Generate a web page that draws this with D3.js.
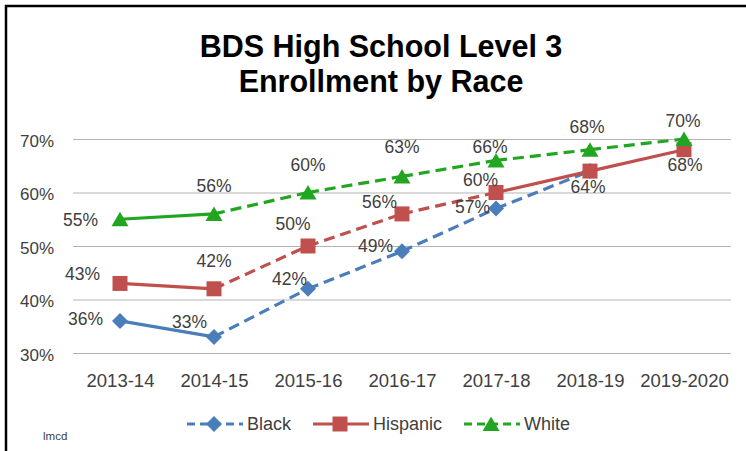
<!DOCTYPE html>
<html>
<head>
<meta charset="utf-8">
<script src="https://cdn.jsdelivr.net/npm/d3@7"></script>
<style>
  body { margin: 0; background: #fff; }
  svg text { font-family: "Liberation Sans", Arial, sans-serif; }
</style>
</head>
<body>
<svg id="chart" width="746" height="451"></svg>
<script>
// chart data
const years = ["2013-14", "2014-15", "2015-16", "2016-17", "2017-18", "2018-19", "2019-2020"];
const blackValues = [0.36, 0.33, 0.42, 0.49, 0.57, 0.64];
const hispanicValues = [0.43, 0.42, 0.50, 0.56, 0.60, 0.64, 0.68];
const whiteValues = [0.55, 0.56, 0.60, 0.63, 0.66, 0.68, 0.70];
// which segment between two years is drawn dashed
const blackDashed = [false, true, true, true, true];
const hispanicDashed = [false, true, true, true, false, false];
const whiteDashed = [false, true, true, true, true, true];
const yTicks = [0.3, 0.4, 0.5, 0.6, 0.7];
const titleLines = ["BDS High School Level 3", "Enrollment by Race"];

// label nudges [dx, dy, anchor] relative to each point, null = hidden
const blackLabelPos = [[-17, 4, "end"], [-7, -9, "end"], [-1, -4, "end"], [-9, 1, "end"], [-6, 4, "end"], null];
const hispanicLabelPos = [[-20, -3, "end"], [0, -22, "middle"], [-15, -16, "middle"], [-5, -6, "end"], [2, -7, "end"], [-2, 22, "middle"], [1, 21, "middle"]];
const whiteLabelPos = [[-22, 7, "end"], [0, -22, "middle"], [0, -22, "middle"], [0, -23, "middle"], [-6, -7, "middle"], [-3, -17, "middle"], [-1, -12, "middle"]];

const series = [
  { name: "Black", values: blackValues, dashed: blackDashed, labels: blackLabelPos, color: "#4a7ebb", marker: "diamond", legendDashed: true },
  { name: "Hispanic", values: hispanicValues, dashed: hispanicDashed, labels: hispanicLabelPos, color: "#c0504d", marker: "square", legendDashed: false },
  { name: "White", values: whiteValues, dashed: whiteDashed, labels: whiteLabelPos, color: "#22a622", marker: "triangle", legendDashed: true },
];

const markerPaths = {
  diamond: "M0,-8L8,0L0,8L-8,0Z",
  square: "M-7.5,-7.5H7.5V7.5H-7.5Z",
  triangle: "M0,-7.5L8.5,7L-8.5,7Z",
};
const dash = "11,6";
const textColor = "#404040";

const svg = d3.select("#chart");

// frame (only top and left edges are visible in the picture)
svg.append("path")
  .attr("d", "M6,451V6H746")
  .attr("fill", "none")
  .attr("stroke", "#000")
  .attr("stroke-width", 2.5);

// title
svg.append("g").selectAll("text")
  .data(titleLines)
  .enter()
  .append("text")
  .attr("x", 381)
  .attr("y", (d, i) => 57 + i * 35)
  .attr("text-anchor", "middle")
  .style("font-weight", "bold")
  .style("font-size", "30.5px")
  .attr("fill", "#000")
  .text(d => d);

const plotLeft = 73, plotRight = 731, plotTop = 139, plotBottom = 353;

const x = d3.scalePoint().domain(years).range([plotLeft, plotRight]).padding(0.5);
const y = d3.scaleLinear().domain([0.3, 0.7]).range([plotBottom, plotTop]);

// y axis with gridlines
const yAxis = svg.append("g")
  .attr("transform", `translate(${plotLeft},0)`)
  .call(d3.axisLeft(y)
    .tickValues(yTicks)
    .tickSize(-(plotRight - plotLeft))
    .tickPadding(19)
    .tickFormat(d3.format(".0%")));
yAxis.select(".domain").remove();
yAxis.selectAll(".tick line").attr("stroke", "#b3b3b3").attr("stroke-width", 1);
yAxis.selectAll(".tick text")
  .attr("dy", "0.42em")
  .attr("fill", textColor)
  .style("font-size", "17px");

// x axis labels
const xAxis = svg.append("g")
  .attr("transform", `translate(0,${plotBottom})`)
  .call(d3.axisBottom(x).tickSize(0).tickPadding(21));
xAxis.select(".domain").remove();
xAxis.selectAll(".tick text")
  .attr("fill", textColor)
  .style("font-size", "18.5px");

// lines, one segment at a time so each can be solid or dashed
const lineGroup = svg.append("g");
series.forEach(s => {
  const g = lineGroup.append("g");
  s.values.slice(1).forEach((v, i) => {
    g.append("line")
      .attr("x1", x(years[i]))
      .attr("y1", y(s.values[i]))
      .attr("x2", x(years[i + 1]))
      .attr("y2", y(v))
      .attr("stroke", s.color)
      .attr("stroke-width", 3.2)
      .attr("stroke-dasharray", s.dashed[i] ? dash : null);
  });
  lineGroup.append("g").selectAll("path")
    .data(s.values)
    .enter()
    .append("path")
    .attr("d", markerPaths[s.marker])
    .attr("transform", (d, i) => `translate(${x(years[i])},${y(d)})`)
    .attr("fill", s.color);
});

// data labels
const labelGroup = svg.append("g");
series.forEach(s => {
  s.values.forEach((v, i) => {
    const p = s.labels[i];
    if (!p) return;
    labelGroup.append("text")
      .attr("x", x(years[i]) + p[0])
      .attr("y", y(v) + p[1])
      .attr("text-anchor", p[2])
      .attr("fill", textColor)
      .style("font-size", "17.5px")
      .text(d3.format(".0%")(v));
  });
});

// legend
const legend = svg.append("g");
let lx = 187;
const ly = 424;
series.forEach(s => {
  legend.append("line")
    .attr("x1", lx).attr("x2", lx + 56)
    .attr("y1", ly).attr("y2", ly)
    .attr("stroke", s.color)
    .attr("stroke-width", 3.2)
    .attr("stroke-dasharray", s.legendDashed ? "8,5" : null);
  legend.append("path")
    .attr("d", markerPaths[s.marker])
    .attr("transform", `translate(${lx + 27},${ly})`)
    .attr("fill", s.color);
  const t = legend.append("text")
    .attr("x", lx + 60)
    .attr("y", 430)
    .attr("fill", textColor)
    .style("font-size", "18px")
    .text(s.name);
  lx += 60 + t.node().getComputedTextLength() + 22;
});

// small credit at the bottom left
svg.append("text")
  .attr("x", 43)
  .attr("y", 440)
  .attr("fill", textColor)
  .style("font-size", "11.5px")
  .text("lmcd");
</script>
</body>
</html>
